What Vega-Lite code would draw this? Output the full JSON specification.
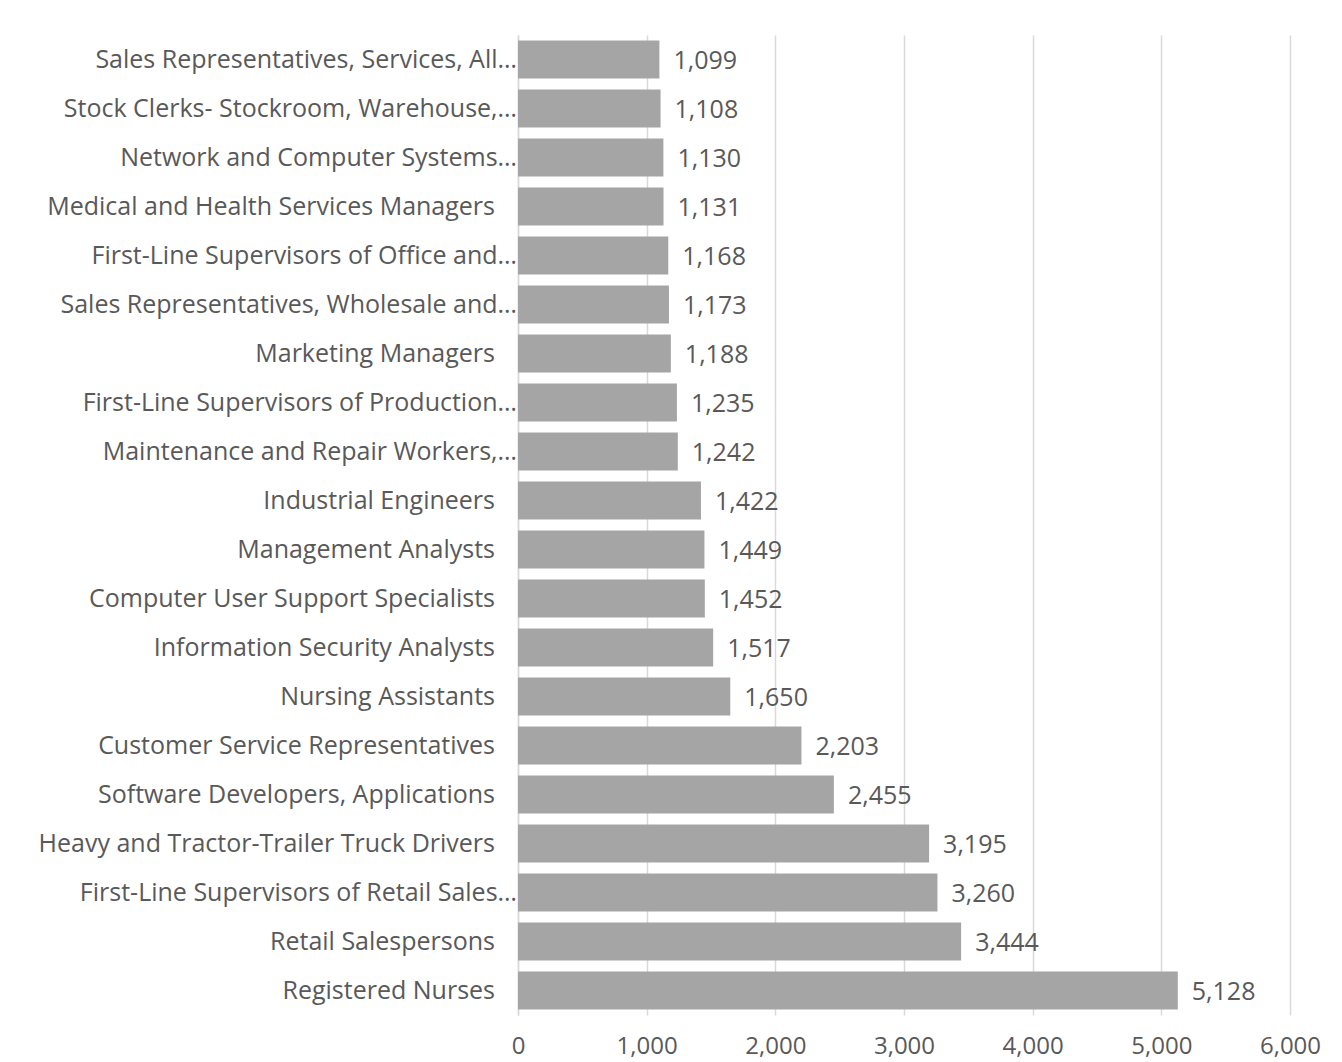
{
  "$schema": "https://vega.github.io/schema/vega-lite/v6.json",
  "width": 772,
  "height": 980,
  "autosize": {"type": "none"},
  "padding": {"left": 518, "top": 35, "right": 52, "bottom": 47},
  "background": "#ffffff",
  "data": {
    "values": [
      {"occupation": "Sales Representatives, Services, All…", "truncated": true, "postings": 1099},
      {"occupation": "Stock Clerks- Stockroom, Warehouse,…", "truncated": true, "postings": 1108},
      {"occupation": "Network and Computer Systems…", "truncated": true, "postings": 1130},
      {"occupation": "Medical and Health Services Managers", "truncated": false, "postings": 1131},
      {"occupation": "First-Line Supervisors of Office and…", "truncated": true, "postings": 1168},
      {"occupation": "Sales Representatives, Wholesale and…", "truncated": true, "postings": 1173},
      {"occupation": "Marketing Managers", "truncated": false, "postings": 1188},
      {"occupation": "First-Line Supervisors of Production…", "truncated": true, "postings": 1235},
      {"occupation": "Maintenance and Repair Workers,…", "truncated": true, "postings": 1242},
      {"occupation": "Industrial Engineers", "truncated": false, "postings": 1422},
      {"occupation": "Management Analysts", "truncated": false, "postings": 1449},
      {"occupation": "Computer User Support Specialists", "truncated": false, "postings": 1452},
      {"occupation": "Information Security Analysts", "truncated": false, "postings": 1517},
      {"occupation": "Nursing Assistants", "truncated": false, "postings": 1650},
      {"occupation": "Customer Service Representatives", "truncated": false, "postings": 2203},
      {"occupation": "Software Developers, Applications", "truncated": false, "postings": 2455},
      {"occupation": "Heavy and Tractor-Trailer Truck Drivers", "truncated": false, "postings": 3195},
      {"occupation": "First-Line Supervisors of Retail Sales…", "truncated": true, "postings": 3260},
      {"occupation": "Retail Salespersons", "truncated": false, "postings": 3444},
      {"occupation": "Registered Nurses", "truncated": false, "postings": 5128}
    ]
  },
  "encoding": {
    "y": {
      "field": "occupation",
      "type": "nominal",
      "sort": null,
      "scale": {"paddingInner": 0.22, "paddingOuter": 0.11},
      "axis": {
        "title": null,
        "ticks": false,
        "labels": false,
        "domain": true,
        "domainColor": "#D9D9D9",
        "domainWidth": 1.5
      }
    }
  },
  "layer": [
    {
      "mark": {"type": "bar", "color": "#A5A5A5"},
      "encoding": {
        "x": {
          "field": "postings",
          "type": "quantitative",
          "scale": {"domain": [0, 6000], "nice": false},
          "axis": {
            "title": null,
            "values": [0, 1000, 2000, 3000, 4000, 5000, 6000],
            "labelExpr": "format(datum.value, ',')",
            "ticks": false,
            "domain": false,
            "grid": true,
            "gridColor": "#D9D9D9",
            "gridWidth": 1.5,
            "labelPadding": 19,
            "labelFont": "Open Sans",
            "labelFontSize": 24,
            "labelColor": "#595959",
            "labelFlush": false
          }
        }
      }
    },
    {
      "mark": {
        "type": "text",
        "align": "left",
        "baseline": "middle",
        "dx": 14,
        "dy": 1,
        "font": "Open Sans",
        "fontSize": 25,
        "color": "#595959"
      },
      "encoding": {
        "x": {"field": "postings", "type": "quantitative"},
        "text": {"field": "postings", "type": "quantitative", "format": ","}
      }
    },
    {
      "transform": [{"filter": "datum.truncated"}],
      "mark": {
        "type": "text",
        "align": "right",
        "baseline": "middle",
        "dx": -1,
        "font": "Open Sans",
        "fontSize": 25,
        "color": "#595959"
      },
      "encoding": {
        "x": {"datum": 0, "type": "quantitative"},
        "text": {"field": "occupation", "type": "nominal"}
      }
    },
    {
      "transform": [{"filter": "!datum.truncated"}],
      "mark": {
        "type": "text",
        "align": "right",
        "baseline": "middle",
        "dx": -23,
        "font": "Open Sans",
        "fontSize": 25,
        "color": "#595959"
      },
      "encoding": {
        "x": {"datum": 0, "type": "quantitative"},
        "text": {"field": "occupation", "type": "nominal"}
      }
    }
  ],
  "config": {
    "view": {"stroke": null}
  }
}
